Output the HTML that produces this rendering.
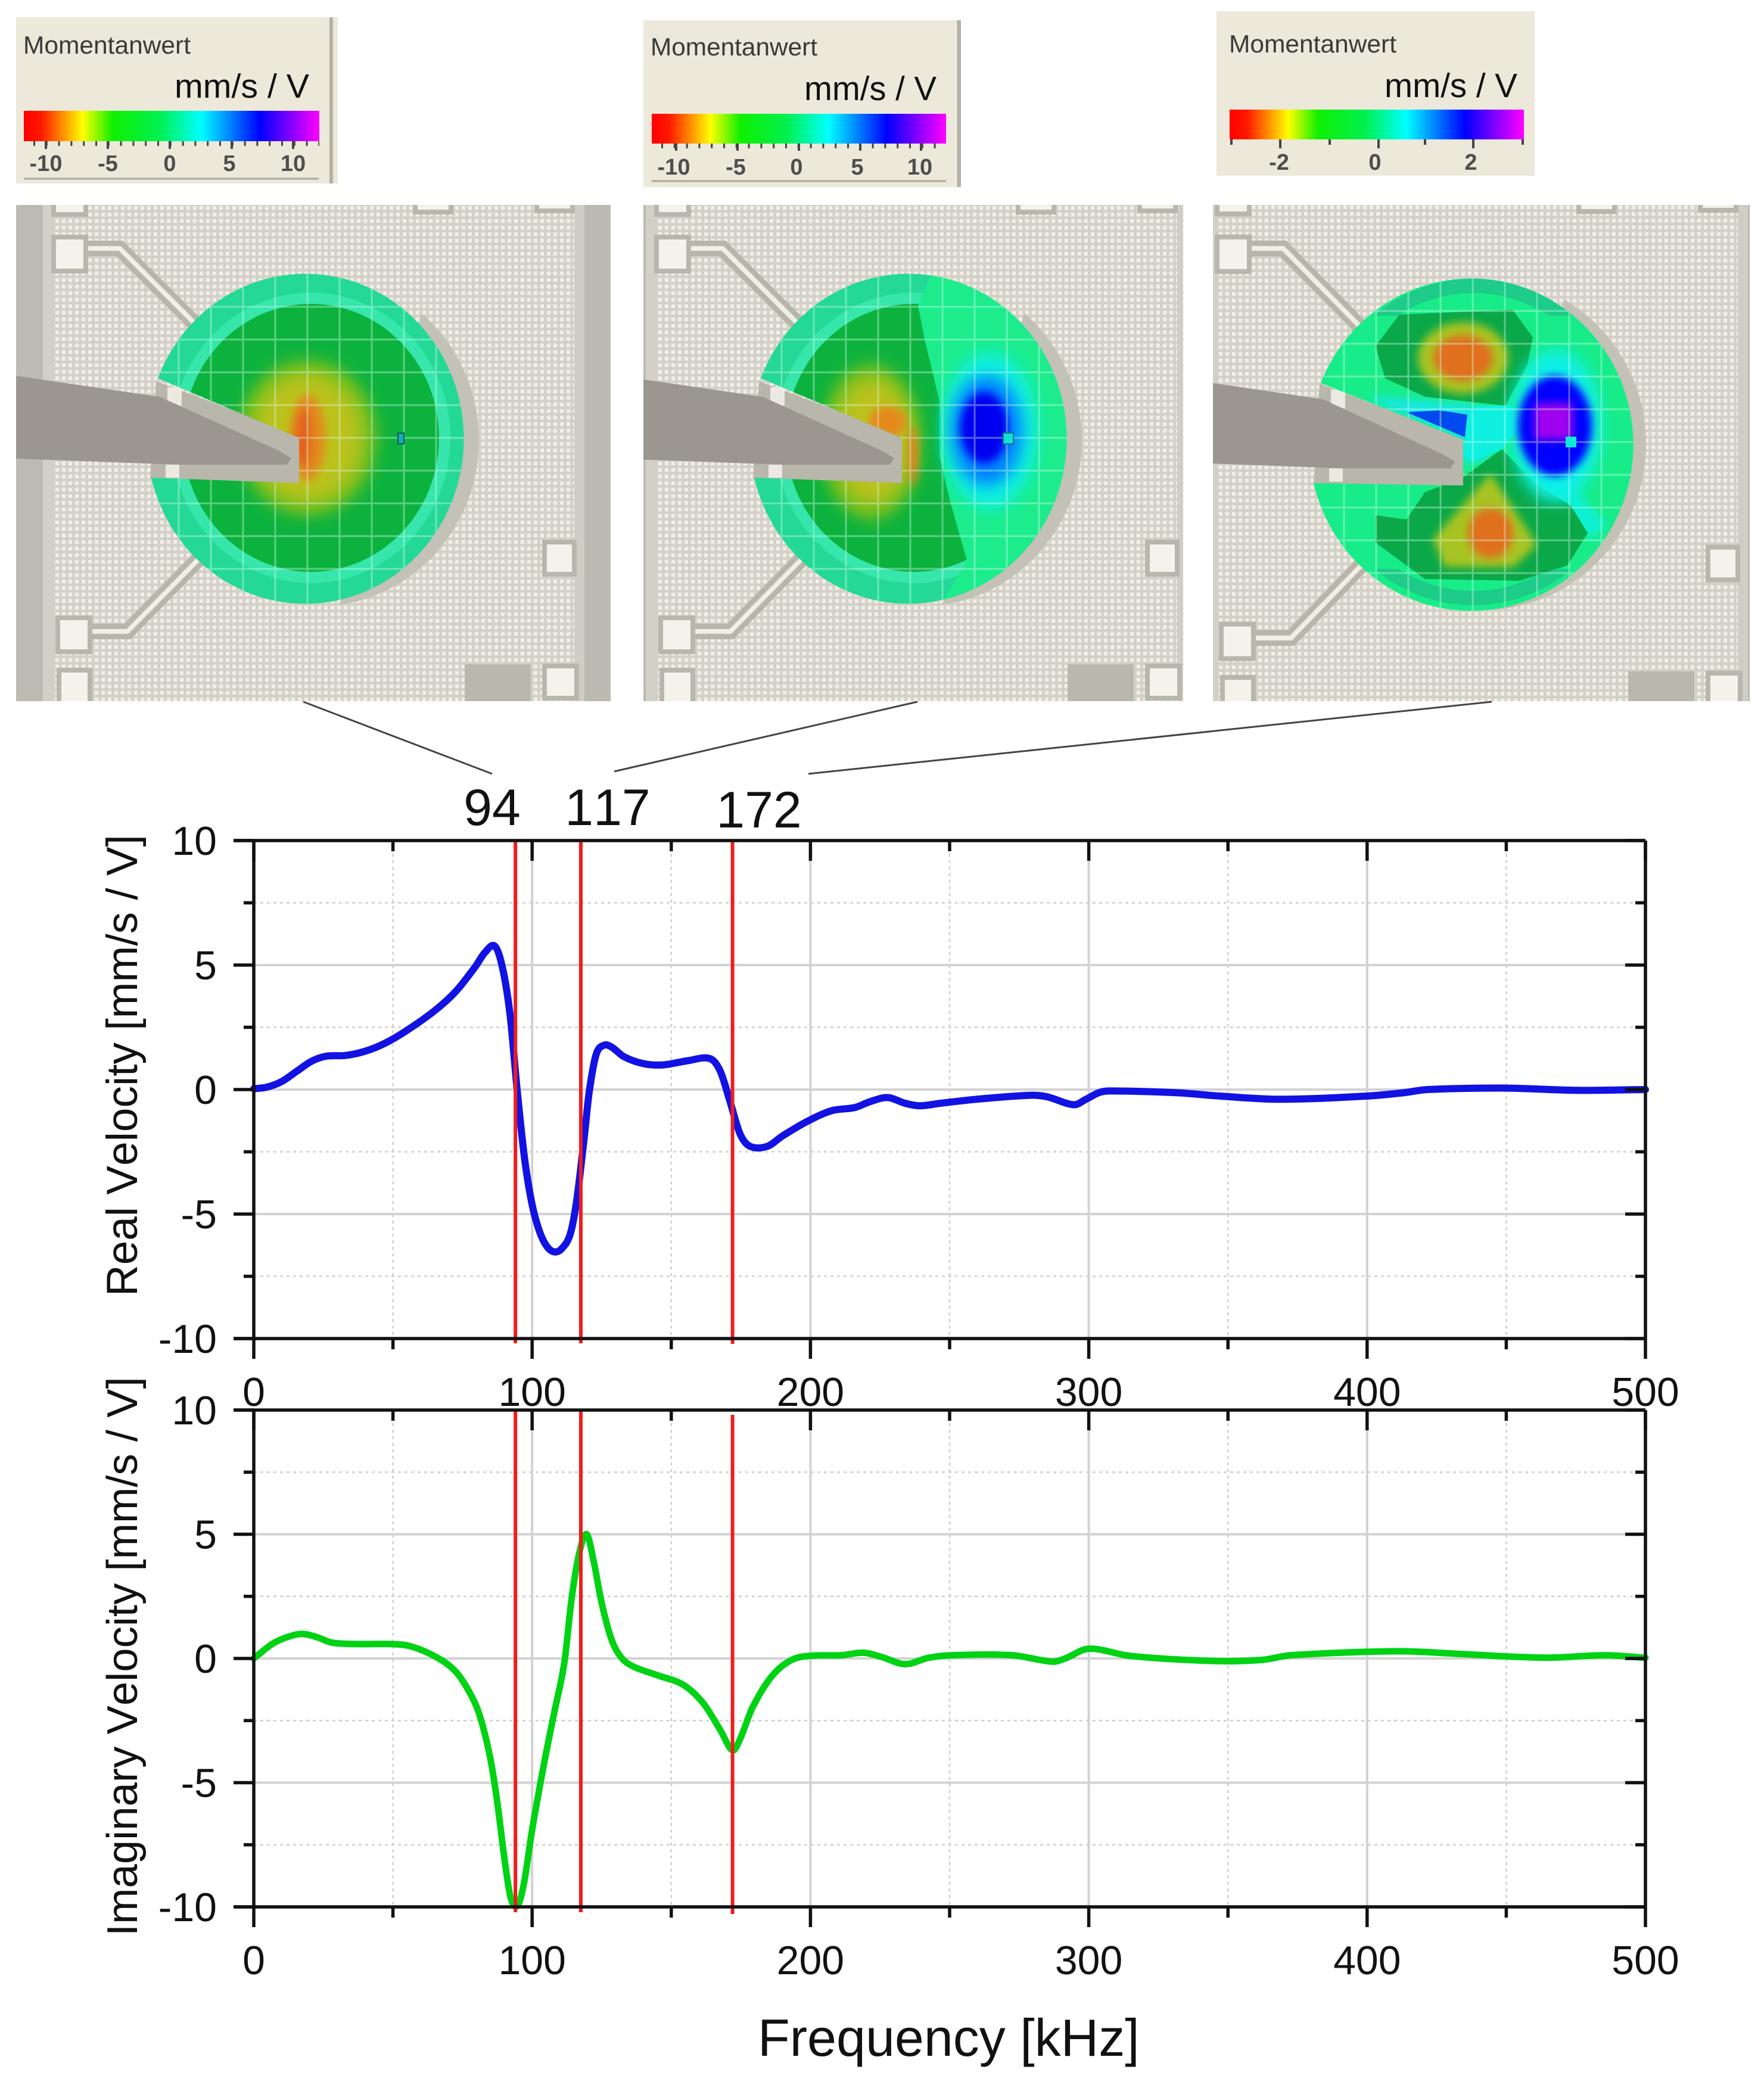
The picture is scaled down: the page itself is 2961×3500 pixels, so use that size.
<!DOCTYPE html>
<html lang="en">
<head>
<meta charset="utf-8">
<title>Real and imaginary velocity spectra with mode shapes</title>
<style>
html,body{margin:0;padding:0;background:#fff;}
svg{display:block;}
text{font-family:"Liberation Sans",sans-serif;font-kerning:none;}
</style>
</head>
<body>
<svg id="figure" xmlns="http://www.w3.org/2000/svg" width="2961" height="3500" viewBox="0 0 2961 3500">
<defs>
  <pattern id="chip-grid" width="11" height="11" patternUnits="userSpaceOnUse">
    <rect width="11" height="11" fill="#f1eee6"/>
    <path d="M0 2.5H11M2.5 0V11" stroke="#d3d0c7" stroke-width="4.5" fill="none"/>
  </pattern>
  <linearGradient id="rainbow">
    <stop offset="0" stop-color="#ff0000"/>
    <stop offset=".06" stop-color="#ff1a00"/>
    <stop offset=".2" stop-color="#ffff00"/>
    <stop offset=".3" stop-color="#10f000"/>
    <stop offset=".46" stop-color="#00f050"/>
    <stop offset=".6" stop-color="#00ffff"/>
    <stop offset=".8" stop-color="#0000ff"/>
    <stop offset="1" stop-color="#ff00ff"/>
  </linearGradient>
  <filter id="blur-s" x="-50%" y="-50%" width="200%" height="200%"><feGaussianBlur stdDeviation="7"/></filter>
  <filter id="blur-m" x="-50%" y="-50%" width="200%" height="200%"><feGaussianBlur stdDeviation="13"/></filter>
  <clipPath id="win1"><rect x="27" y="344" width="998" height="833"/></clipPath>
  <clipPath id="win2"><rect x="1080" y="344" width="906" height="833"/></clipPath>
  <clipPath id="win3"><rect x="2036" y="344" width="901" height="833"/></clipPath>
  <clipPath id="disc12"><path d="M265 635A266 277 0 1 1 254 802L502 811L502 735Z"/></clipPath>
  <clipPath id="disc3"><path d="M2217 643A272 279 0 1 1 2205 811L2456 815L2456 738Z"/></clipPath>
  <clipPath id="crescent12"><path d="M720 480L900 480L900 1050L560 1050Z"/></clipPath>
  <clipPath id="crescent3"><path d="M2630 480L2850 480L2850 1060L2500 1060Z"/></clipPath>
  <clipPath id="bands3"><rect x="2180" y="440" width="600" height="90"/><rect x="2180" y="955" width="600" height="90"/></clipPath>

  <g id="die">
    <rect x="0" y="340" width="1040" height="840" fill="url(#chip-grid)"/>
    <rect x="0" y="340" width="72" height="840" fill="#bdbab1"/>
    <rect x="72" y="340" width="18" height="840" fill="#d3d0c7"/>
    <rect x="964" y="340" width="18" height="840" fill="#d0cdc4"/>
    <rect x="981" y="340" width="60" height="840" fill="#bcb9b0"/>
    <path d="M144 417H201L335 551M151 1060H214L335 937" fill="none" stroke="#b8b5ab" stroke-width="26"/>
    <path d="M144 417H201L335 551M151 1060H214L335 937" fill="none" stroke="#f1eee6" stroke-width="8"/>
    <g fill="#f4f2ea" stroke="#b9b6ac" stroke-width="8">
      <rect x="90" y="336" width="54" height="24"/>
      <rect x="90" y="398" width="54" height="57"/>
      <rect x="97" y="1037" width="54" height="57"/>
      <rect x="99" y="1125" width="52" height="60"/>
      <rect x="914" y="910" width="50" height="54"/>
      <rect x="914" y="1118" width="54" height="54"/>
      <rect x="697" y="334" width="60" height="22"/>
      <rect x="901" y="332" width="60" height="22"/>
    </g>
    <rect x="780" y="1115" width="111" height="65" fill="#bab7ad"/>
    <path d="M262 640L507 732L507 814L252 804Z" fill="#b9b6ac"/>
    <rect x="281" y="650" width="24" height="31" fill="#ece9e0"/>
    <rect x="278" y="780" width="23" height="22" fill="#ece9e0"/>
    <path d="M0 627L268 666L469 757L489 769L482 780L301 780L0 769Z" fill="#9b978f"/>
  </g>

  <g id="disc-base">
    <rect x="200" y="400" width="640" height="680" fill="#24d896"/>
    <ellipse cx="522" cy="735" rx="234" ry="244" fill="#36e6aa"/>
    <ellipse cx="522" cy="735" rx="215" ry="225" fill="#0cb23e"/>
  </g>
  <path id="disc-lines" fill="none" stroke="#dcfff4" stroke-opacity=".38" stroke-width="3"
    d="M300 400V1080M354 400V1080M408 400V1080M462 400V1080M516 400V1080M570 400V1080M624 400V1080M678 400V1080M732 400V1080
       M200 515H860M200 570H860M200 625H860M200 680H860M200 735H860M200 790H860M200 845H860M200 900H860M200 955H860"/>
</defs>

<rect x="0" y="0" width="2961" height="3500" fill="#ffffff"/>

<!-- Legends -->
<g>
  <rect x="27" y="29" width="529" height="279" fill="#ece8da"/>
  <rect x="553" y="29" width="6" height="279" fill="#b5b2a6"/>
  <rect x="559" y="29" width="8" height="279" fill="#ece8da"/>
  <text x="39" y="90" font-size="42" fill="#3a3a38" textLength="281" lengthAdjust="spacingAndGlyphs">Momentanwert</text>
  <text x="293" y="164" font-size="57" fill="#111" textLength="226" lengthAdjust="spacingAndGlyphs">mm/s / V</text>
  <rect x="40" y="186" width="496" height="51" fill="url(#rainbow)"/>
  <path d="M40 241H536" stroke="#444" stroke-width="8" stroke-dasharray="3 17.8" stroke-dashoffset="-16"/>
  <path d="M77 237V250M181 237V250M285 237V250M389 237V250M492 237V250" stroke="#444" stroke-width="4"/>
  <g font-size="38" fill="#333" text-anchor="middle" font-weight="bold" fill-opacity=".85">
    <text x="77" y="287">-10</text>
    <text x="181" y="287">-5</text>
    <text x="285" y="287">0</text>
    <text x="385" y="287">5</text>
    <text x="492" y="287">10</text>
  </g>
  <path d="M40 300H535" stroke="#aaa79b" stroke-width="3"/>
</g>

<g>
  <rect x="1080" y="34" width="525" height="280" fill="#ece8da"/>
  <rect x="1606" y="34" width="7" height="280" fill="#b5b2a6"/>
  <text x="1092" y="93" font-size="42" fill="#3a3a38" textLength="280" lengthAdjust="spacingAndGlyphs">Momentanwert</text>
  <text x="1350" y="168" font-size="57" fill="#111" textLength="222" lengthAdjust="spacingAndGlyphs">mm/s / V</text>
  <rect x="1094" y="191" width="494" height="50" fill="url(#rainbow)"/>
  <path d="M1094 245H1588" stroke="#444" stroke-width="8" stroke-dasharray="3 17.8" stroke-dashoffset="-16"/>
  <path d="M1135 241V253M1238 241V253M1341 241V253M1444 241V253M1546 241V253" stroke="#444" stroke-width="4"/>
  <g font-size="38" fill="#333" text-anchor="middle" font-weight="bold" fill-opacity=".85">
    <text x="1131" y="293">-10</text>
    <text x="1235" y="293">-5</text>
    <text x="1337" y="293">0</text>
    <text x="1439" y="293">5</text>
    <text x="1544" y="293">10</text>
  </g>
  <path d="M1094 304H1588" stroke="#aaa79b" stroke-width="3"/>
</g>

<g>
  <rect x="2042" y="19" width="534" height="276" fill="#ece8da"/>
  <text x="2063" y="88" font-size="42" fill="#3a3a38" textLength="281" lengthAdjust="spacingAndGlyphs">Momentanwert</text>
  <text x="2324" y="163" font-size="57" fill="#111" textLength="223" lengthAdjust="spacingAndGlyphs">mm/s / V</text>
  <rect x="2064" y="184" width="494" height="50" fill="url(#rainbow)"/>
  <path d="M2067 234V243M2149 234V249M2232 234V243M2314 234V249M2392 234V243M2473 234V249M2556 234V243" stroke="#444" stroke-width="4"/>
  <g font-size="38" fill="#333" text-anchor="middle" font-weight="bold" fill-opacity=".85">
    <text x="2147" y="285">-2</text>
    <text x="2308" y="285">0</text>
    <text x="2469" y="285">2</text>
  </g>
</g>

<!-- Mode shape 1 -->
<g clip-path="url(#win1)">
  <use href="#die"/>
  <g clip-path="url(#crescent12)"><ellipse cx="532" cy="739" rx="272" ry="279" fill="#c4c1b7"/></g>
  <g clip-path="url(#disc12)">
    <use href="#disc-base"/>
    <ellipse cx="516" cy="735" rx="116" ry="130" fill="#7fc01e" filter="url(#blur-m)"/>
    <ellipse cx="516" cy="735" rx="88" ry="104" fill="#bcc21c" filter="url(#blur-m)"/>
    <ellipse cx="516" cy="735" rx="30" ry="72" fill="#e28a1c" filter="url(#blur-s)"/>
    <ellipse cx="510" cy="735" rx="12" ry="50" fill="#e2601a" filter="url(#blur-s)"/>
    <use href="#disc-lines"/>
    <rect x="668" y="727" width="10" height="18" fill="#18a8c0" stroke="#0a5a50" stroke-width="2"/>
  </g>
</g>

<!-- Mode shape 2 -->
<g clip-path="url(#win2)">
  <g transform="translate(1012 0)">
    <use href="#die"/>
    <g clip-path="url(#crescent12)"><ellipse cx="532" cy="739" rx="272" ry="279" fill="#c4c1b7"/></g>
    <g clip-path="url(#disc12)">
      <use href="#disc-base"/>
      <g transform="translate(-1012 0)">
        <ellipse cx="1462" cy="742" rx="84" ry="130" fill="#7fc01e" filter="url(#blur-m)"/>
        <ellipse cx="1466" cy="740" rx="62" ry="100" fill="#bcc21c" filter="url(#blur-m)"/>
        <ellipse cx="1490" cy="708" rx="32" ry="26" fill="#e48a1c" filter="url(#blur-s)"/>
        <ellipse cx="1532" cy="765" rx="8" ry="50" fill="#e08020" filter="url(#blur-s)"/>
        <path d="M1571 440L1541 513L1553 574L1577 673L1577 765L1595 842L1623 941L1571 1030L1900 1030L1900 440Z" fill="#1cec8c"/>
        <ellipse cx="1662" cy="723" rx="80" ry="132" fill="#10f0e0" filter="url(#blur-m)"/>
        <ellipse cx="1656" cy="723" rx="60" ry="92" fill="#0080ff" filter="url(#blur-m)"/>
        <ellipse cx="1652" cy="718" rx="40" ry="60" fill="#0000f0" filter="url(#blur-s)"/>
      </g>
      <use href="#disc-lines"/>
      <g transform="translate(-1012 0)">
        <rect x="1684" y="727" width="17" height="18" fill="#10e0d8" stroke="#0a8080" stroke-width="2"/>
      </g>
    </g>
  </g>
</g>

<!-- Mode shape 3 -->
<g clip-path="url(#win3)">
  <g transform="translate(1953 -7) scale(1 1.017)">
    <use href="#die"/>
  </g>
  <g clip-path="url(#crescent3)"><ellipse cx="2490" cy="745" rx="273" ry="279" fill="#c4c1b7"/></g>
  <g clip-path="url(#disc3)">
    <rect x="2180" y="440" width="600" height="600" fill="#18ec88"/>
    <g clip-path="url(#bands3)"><ellipse cx="2473" cy="742" rx="252" ry="262" fill="none" stroke="#1ccc88" stroke-width="24"/></g>
    <path d="M2310 665L2478 680L2500 770L2456 780L2456 738L2300 672Z" fill="#12e8e0" filter="url(#blur-s)"/>
    <path d="M2309 581L2349 528L2539 520L2573 566L2564 612L2527 681L2392 666L2325 635Z" fill="#0aa848"/>
    <ellipse cx="2456" cy="601" rx="76" ry="60" fill="#a8c420" filter="url(#blur-s)"/>
    <ellipse cx="2456" cy="601" rx="50" ry="38" fill="#e0701c" filter="url(#blur-s)"/>
    <path d="M2620 800L2700 880L2670 905L2610 850Z" fill="#10f0d0" filter="url(#blur-s)"/>
    <path d="M2521 754L2576 811L2637 849L2665 895L2631 949L2551 975L2392 972L2309 911L2309 865L2361 872L2392 826L2453 803Z" fill="#0aa848"/>
    <path d="M2502 795L2580 915L2540 952L2425 952L2405 905Z" fill="#a8c420" filter="url(#blur-s)"/>
    <ellipse cx="2502" cy="895" rx="38" ry="42" fill="#e0701c" filter="url(#blur-s)"/>
    <path d="M2478 681L2539 681L2548 720L2521 754L2470 775L2456 765L2463 700Z" fill="#10f0e0"/>
    <path d="M2361 692L2459 734L2463 696L2417 689Z" fill="#0048f0"/>
    <ellipse cx="2612" cy="715" rx="76" ry="128" fill="#10f0e8" filter="url(#blur-m)"/>
    <ellipse cx="2610" cy="715" rx="62" ry="84" fill="#0000ff" filter="url(#blur-s)"/>
    <rect x="2576" y="677" width="64" height="61" fill="#a000f0" filter="url(#blur-s)"/>
    <g transform="translate(1956 7)"><use href="#disc-lines"/></g>
    <rect x="2628" y="733" width="18" height="18" fill="#10e8d8"/>
  </g>
</g>

<!-- Connector lines -->
<g stroke="#444" stroke-width="3" fill="none">
  <line x1="509" y1="1178" x2="826" y2="1299"/>
  <line x1="1540" y1="1178" x2="1031" y2="1295"/>
  <line x1="2504" y1="1178" x2="1357" y2="1299"/>
</g>

<!-- Frequency labels -->
<g font-size="86" fill="#111" text-anchor="middle">
  <text x="826" y="1385">94</text>
  <text x="1020" y="1385">117</text>
  <text x="1274" y="1389">172</text>
</g>

<g id="plots"></g>

<text transform="translate(230 2176) rotate(-90)" font-size="73" fill="#111">Real Velocity [mm/s / V]</text>
<text transform="translate(230 3250) rotate(-90)" font-size="72.5" fill="#111">Imaginary Velocity [mm/s / V]</text>
<text x="1272" y="3451" font-size="88" fill="#111">Frequency [kHz]</text>
</svg>

<script>
const realFreq = [0,4.8,10,15.5,20.8,26,33,40,47.5,56,65,72.4,79.5,83,86.6,89.3,92,94.7,97.3,100,102.7,105.3,108,110.7,113.7,116,118.7,120.5,123,125.8,128.5,133,140,147,156,164,167.6,171,174.7,178.3,184.5,190,199,207.6,216,221.3,227.7,234,239.3,246.7,259.6,278.9,285,294.7,299,304.3,310.8,332,347,368.4,400,413,421.7,449,474.8,500];
const realValues = [0.03,0.1,0.32,0.74,1.14,1.34,1.37,1.54,1.88,2.45,3.17,3.92,4.92,5.5,5.76,4.92,3.08,-0.1,-2.78,-4.62,-5.71,-6.3,-6.52,-6.38,-5.8,-4.46,-1.94,-0.1,1.41,1.78,1.71,1.32,1.04,0.99,1.16,1.24,0.74,-0.44,-1.78,-2.28,-2.28,-1.86,-1.27,-0.85,-0.72,-0.49,-0.32,-0.55,-0.65,-0.55,-0.39,-0.23,-0.29,-0.61,-0.39,-0.1,-0.06,-0.13,-0.26,-0.39,-0.26,-0.13,0,0.06,-0.03,0];
const imagFreq = [0,6.6,12,17.3,22.6,28,36.8,49.3,56.4,65.3,72.4,77.8,81.3,84.9,87.5,90.2,92.3,94.7,97,100,104.4,108,111.6,114.2,116.9,119.6,122.2,125,128.5,132,136.5,145.4,154.3,161.4,167.6,172,174.7,179.2,186.3,193.4,200.5,211,219,225.6,234,242.5,251,272.5,287,291.5,300,315,344.8,362,372.6,411,432,464,485.6,500];
const imagValues = [0,0.58,0.86,0.99,0.86,0.64,0.58,0.58,0.49,0.07,-0.51,-1.42,-2.34,-3.98,-5.8,-8.18,-9.64,-9.96,-9.09,-6.9,-4.16,-2.15,-0.15,2.41,4.23,5,3.87,2.23,0.77,0.04,-0.33,-0.69,-1.06,-1.79,-2.88,-3.7,-3.25,-1.97,-0.69,-0.05,0.11,0.13,0.23,0.06,-0.23,0.03,0.13,0.13,-0.13,0,0.39,0.1,-0.1,-0.06,0.13,0.29,0.19,0.03,0.13,0.03];
const resonances = [94,117.5,172];
const xMajorTicks = [0,100,200,300,400,500];
const xMinorTicks = [50,150,250,350,450];
const yMajorTicks = [-10,-5,0,5,10];
const yMinorTicks = [-7.5,-2.5,2.5,7.5];

const NS = 'http://www.w3.org/2000/svg';
const plotsRoot = document.getElementById('plots');
const xScale = f => 426 + f * 4.672;
const yScaleReal = v => 1829 - v * 41.8;
const yScaleImag = v => 2784 - v * 41.7;

function make(parent, tag, attrs, txt) {
  const el = document.createElementNS(NS, tag);
  for (const k in attrs) el.setAttribute(k, attrs[k]);
  if (txt !== undefined) el.textContent = txt;
  parent.appendChild(el);
  return el;
}

function smoothPath(px, py) {
  const n = px.length;
  const slope = i => {
    const a = Math.max(i - 1, 0), b = Math.min(i + 1, n - 1);
    return (py[b] - py[a]) / (px[b] - px[a]);
  };
  let d = 'M' + px[0].toFixed(1) + ' ' + py[0].toFixed(1);
  for (let i = 0; i < n - 1; i++) {
    const h = (px[i + 1] - px[i]) / 3;
    d += 'C' + (px[i] + h).toFixed(1) + ' ' + (py[i] + slope(i) * h).toFixed(1) + ' ' +
         (px[i + 1] - h).toFixed(1) + ' ' + (py[i + 1] - slope(i + 1) * h).toFixed(1) + ' ' +
         px[i + 1].toFixed(1) + ' ' + py[i + 1].toFixed(1);
  }
  return d;
}

function drawPlot(key, yScale, freqs, values, color, width, labelBase, redEnds) {
  const g = make(plotsRoot, 'g', {});
  
  
  const top = yScale(10), bottom = yScale(-10), left = xScale(0), right = xScale(500);

  xMinorTicks.forEach(t => {
    const el = make(g, 'line', {x1:xScale(t), x2:xScale(t), y1:top, y2:bottom, stroke:'#cfcfcf', 'stroke-width':2.5, 'stroke-dasharray':'5 6'});
    
    
  });
  xMajorTicks.slice(1, -1).forEach(t => {
    const el = make(g, 'line', {x1:xScale(t), x2:xScale(t), y1:top, y2:bottom, stroke:'#d2d2d2', 'stroke-width':4});
    
    
  });
  yMinorTicks.forEach(t => {
    const el = make(g, 'line', {x1:left, x2:right, y1:yScale(t), y2:yScale(t), stroke:'#cfcfcf', 'stroke-width':2.5, 'stroke-dasharray':'5 6'});
    
    
  });
  yMajorTicks.slice(1, -1).forEach(t => {
    const el = make(g, 'line', {x1:left, x2:right, y1:yScale(t), y2:yScale(t), stroke:'#d2d2d2', 'stroke-width':4});
    
    
  });

  const curve = make(g, 'path', {d:smoothPath(freqs.map(xScale), values.map(yScale)), fill:'none', stroke:color, 'stroke-width':width, 'stroke-linejoin':'round', 'stroke-linecap':'round'});
  
  

  resonances.forEach((f, i) => {
    const el = make(g, 'line', {x1:xScale(f), x2:xScale(f), y1:redEnds[i][0], y2:redEnds[i][1], stroke:'#f01c1c', 'stroke-width':6});
    
    
  });

  const frame = make(g, 'path', {fill:'none', stroke:'#111', 'stroke-width':5.5,
    d:'M' + left + ' ' + bottom + 'V' + top + 'M' + right + ' ' + bottom + 'V' + top + 'M' + (left - 34) + ' ' + top + 'H' + right + 'M' + (left - 34) + ' ' + bottom + 'H' + right});
  
  

  const drawXTick = (t, len) => {
    const el = make(g, 'path', {stroke:'#111', 'stroke-width':5.5, fill:'none',
      d:'M' + xScale(t) + ' ' + bottom + 'v' + len + 'M' + xScale(t) + ' ' + top + 'v' + len});
    
    
  };
  const drawYTick = (t, len) => {
    const el = make(g, 'path', {stroke:'#111', 'stroke-width':5.5, fill:'none',
      d:'M' + left + ' ' + yScale(t) + 'h' + (-len) + 'M' + right + ' ' + yScale(t) + 'h' + (-len)});
    
    
  };
  xMajorTicks.forEach(t => drawXTick(t, 34));
  xMinorTicks.forEach(t => drawXTick(t, 18));
  yMajorTicks.forEach(t => drawYTick(t, 34));
  yMinorTicks.forEach(t => drawYTick(t, 17));

  xMajorTicks.forEach(t => {
    const el = make(g, 'text', {x:xScale(t), y:labelBase, 'font-size':68, fill:'#111', 'text-anchor':'middle'}, String(t));
    
    
  });
  yMajorTicks.forEach(t => {
    const el = make(g, 'text', {x:364, y:yScale(t) + 24, 'font-size':68, fill:'#111', 'text-anchor':'end'}, String(t));
    
    
  });
}

drawPlot('real', yScaleReal, realFreq, realValues, '#1212e2', 12, 2360, [[1411,2255],[1411,2255],[1411,2256]]);
drawPlot('imaginary', yScaleImag, imagFreq, imagValues, '#00d214', 11, 3314, [[2367,3210],[2367,3210],[2375,3213]]);
</script>
</body>
</html>
